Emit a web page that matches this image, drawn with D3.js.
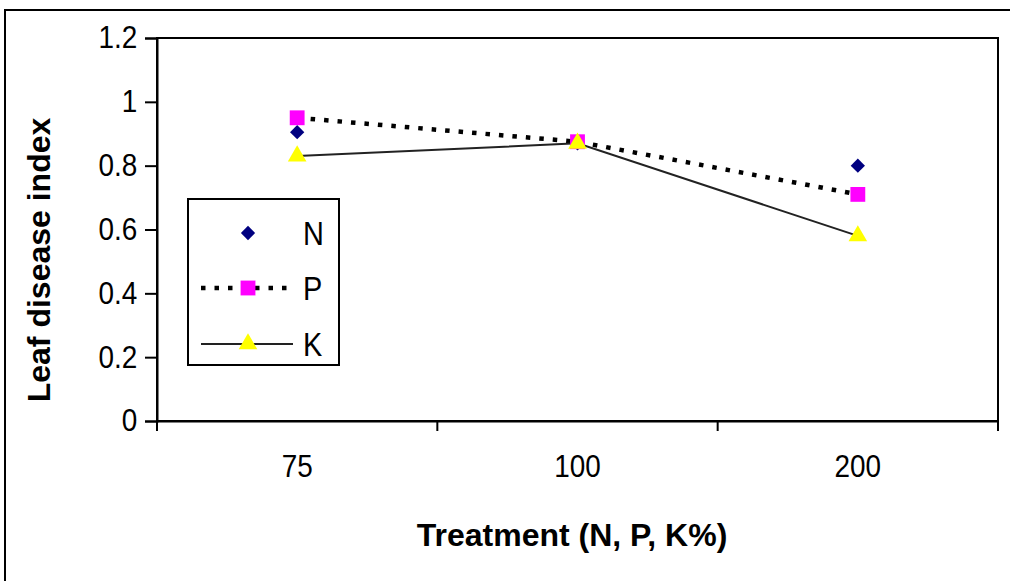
<!DOCTYPE html>
<html>
<head>
<meta charset="utf-8">
<script src="https://cdn.jsdelivr.net/npm/d3@7"></script>
<style>
  body { margin: 0; background: #fff; }
  text { font-family: "Liberation Sans", Arial, sans-serif; fill: #000; }
</style>
</head>
<body>
<svg width="1010" height="581"></svg>
<script>
// data
var categories = ["75", "100", "200"];
var seriesNames = ["N", "P", "K"];
var nValues = [0.905, 0.87, 0.80];
var pValues = [0.95, 0.875, 0.71];
var kValues = [0.83, 0.87, 0.58];
var yTicks = [0, 0.2, 0.4, 0.6, 0.8, 1, 1.2];

var svg = d3.select('svg');

// outer chart border (runs off the right and bottom edge)
svg.append('rect')
    .attr('x', 5).attr('y', 10)
    .attr('width', 1030).attr('height', 600)
    .attr('fill', 'none').attr('stroke', '#000').attr('stroke-width', 2);

var plotL = 157, plotR = 998, plotT = 38, plotB = 421;

var x = d3.scaleBand().domain(categories).range([plotL, plotR]);
var y = d3.scaleLinear().domain([0, 1.2]).range([plotB, plotT]);

// plot frame
svg.append('rect')
    .attr('x', plotL).attr('y', plotT)
    .attr('width', plotR - plotL).attr('height', plotB - plotT)
    .attr('fill', 'none').attr('stroke', '#000').attr('stroke-width', 2);

// y axis
var yAxis = svg.append('g')
    .attr('transform', 'translate(' + plotL + ',0)')
    .call(d3.axisLeft(y).tickValues(yTicks).tickSize(12).tickPadding(10)
        .tickFormat(function(d) { return String(+d.toFixed(1)); }));
yAxis.select('.domain').attr('stroke-width', 2);
yAxis.selectAll('.tick line').attr('stroke-width', 2);
yAxis.selectAll('.tick text')
    .attr('font-size', 31)
    .attr('transform', 'scale(0.9,1)')
    .attr('font-family', '"Liberation Sans", Arial, sans-serif');

// x axis: labels centred in bands, ticks on band edges
var xAxis = svg.append('g')
    .attr('transform', 'translate(0,' + plotB + ')')
    .call(d3.axisBottom(x).tickSize(0).tickPadding(34));
xAxis.select('.domain').attr('stroke-width', 2);
xAxis.selectAll('.tick text')
    .attr('font-size', 31)
    .attr('transform', 'scale(0.9,1)')
    .attr('font-family', '"Liberation Sans", Arial, sans-serif');

var edges = categories.map(function(c) { return x(c); }).concat([plotR]);
xAxis.selectAll('.edge')
    .data(edges)
    .enter()
    .append('line')
    .attr('class', 'edge')
    .attr('x1', function(d) { return d; })
    .attr('x2', function(d) { return d; })
    .attr('y1', 0).attr('y2', 10)
    .attr('stroke', '#000').attr('stroke-width', 2);

// axis titles
svg.append('text')
    .attr('x', 572).attr('y', 546)
    .attr('text-anchor', 'middle')
    .attr('font-size', 32).attr('font-weight', 'bold')
    .text('Treatment (N, P, K%)');

svg.append('text')
    .attr('transform', 'translate(50,260) rotate(-90)')
    .attr('text-anchor', 'middle')
    .attr('font-size', 32).attr('font-weight', 'bold')
    .text('Leaf disease index');

function cx(i) { return x(categories[i]) + x.bandwidth() / 2; }

var line = d3.line()
    .x(function(d, i) { return cx(i); })
    .y(function(d) { return y(d); });

// P dotted line
svg.append('path')
    .datum(pValues)
    .attr('d', line)
    .attr('fill', 'none')
    .attr('stroke', '#000')
    .attr('stroke-width', 4.5)
    .attr('stroke-dasharray', '4.5,9');

// K solid line
svg.append('path')
    .datum(kValues)
    .attr('d', line)
    .attr('fill', 'none')
    .attr('stroke', '#222')
    .attr('stroke-width', 2);

var diamond = d3.symbol().type(d3.symbolDiamond2).size(130);
var square = d3.symbol().type(d3.symbolSquare).size(220);
var triangle = d3.symbol().type(d3.symbolTriangle).size(150);

function markers(values, sym, color) {
    svg.append('g').selectAll('path')
        .data(values)
        .enter()
        .append('path')
        .attr('d', sym)
        .attr('fill', color)
        .attr('transform', function(d, i) {
            return 'translate(' + cx(i) + ',' + y(d) + ')';
        });
}
markers(nValues, diamond, '#000080');
markers(pValues, square, '#ff00ff');
markers(kValues, triangle, '#ffff00');

// legend
var lg = svg.append('g');
lg.append('rect')
    .attr('x', 188).attr('y', 199)
    .attr('width', 151).attr('height', 166)
    .attr('fill', '#fff').attr('stroke', '#000').attr('stroke-width', 2);

var rows = [233, 288, 344];
lg.append('path').attr('d', diamond)
    .attr('fill', '#000080')
    .attr('transform', 'translate(248,' + rows[0] + ')');
lg.append('line')
    .attr('x1', 201).attr('x2', 293).attr('y1', rows[1]).attr('y2', rows[1])
    .attr('stroke', '#000').attr('stroke-width', 4.5)
    .attr('stroke-dasharray', '4.5,9');
lg.append('path').attr('d', square)
    .attr('fill', '#ff00ff')
    .attr('transform', 'translate(248,' + rows[1] + ')');
lg.append('line')
    .attr('x1', 201).attr('x2', 293).attr('y1', rows[2]).attr('y2', rows[2])
    .attr('stroke', '#222').attr('stroke-width', 2);
lg.append('path').attr('d', triangle)
    .attr('fill', '#ffff00')
    .attr('transform', 'translate(248,' + rows[2] + ')');

lg.selectAll('.lt')
    .data(seriesNames)
    .enter()
    .append('text')
    .attr('class', 'lt')
    .attr('font-size', 34)
    .attr('transform', function(d, i) {
        return 'translate(303,' + (rows[i] + 12) + ') scale(0.85,1)';
    })
    .text(function(d) { return d; });
</script>
</body>
</html>
